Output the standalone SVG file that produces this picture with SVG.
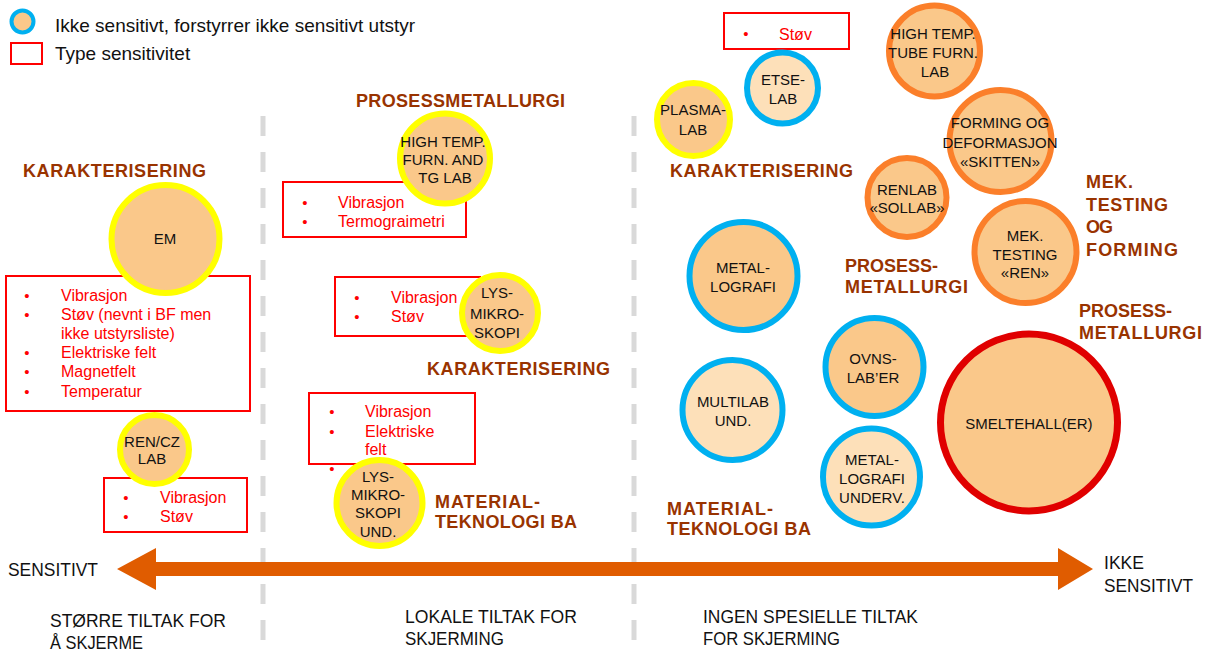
<svg xmlns="http://www.w3.org/2000/svg" width="1208" height="654" viewBox="0 0 1208 654">
  <style>
    text { font-family: "Liberation Sans", Arial, sans-serif; }
    .lbl { font-size: 15px; fill: #111; text-anchor: middle; }
    .leg { font-size: 19px; fill: #111; }
    .red { font-size: 16px; fill: #ff0000; }
    .blt { font-size: 15px; fill: #ff0000; text-anchor: middle; }
    .ttl { font-size: 18px; font-weight: bold; fill: #993300; }
    .scale { font-size: 18px; fill: #111; }
    .box { fill: none; stroke: #ff0000; stroke-width: 2; }
    .cy { stroke: #ffff00; stroke-width: 6; }
    .cb { stroke: #00b0f0; stroke-width: 6; }
    .co { stroke: #fb7f2a; stroke-width: 6; }
    .cr { stroke: #e00000; stroke-width: 7; }
    .dark { fill: #fac88a; }
    .light { fill: #fde0b9; }
    .sep { stroke: #d9d9d9; stroke-width: 5; stroke-dasharray: 20 16; }
  </style>

  <rect width="1208" height="654" fill="#ffffff"/>

  <!-- legend -->
  <g id="legend">
    <circle cx="22.5" cy="21.5" r="11" class="dark" stroke="#00b0f0" stroke-width="4"/>
    <text x="55" y="32" class="leg">Ikke sensitivt, forstyrrer ikke sensitivt utstyr</text>
    <rect x="11" y="43" width="31" height="21" class="box"/>
    <text x="55" y="60" class="leg">Type sensitivitet</text>
  </g>

  <!-- zone separators -->
  <g id="separators">
    <line x1="263" y1="116" x2="263" y2="654" class="sep"/>
    <line x1="634" y1="116" x2="634" y2="654" class="sep"/>
  </g>

  <!-- section titles -->
  <g id="titles">
    <text x="23" y="177" class="ttl" textLength="183">KARAKTERISERING</text>
    <text x="356" y="107" class="ttl" textLength="209">PROSESSMETALLURGI</text>
    <text x="427" y="375" class="ttl" textLength="183">KARAKTERISERING</text>
    <text x="435" y="508" class="ttl" textLength="105">MATERIAL-</text>
    <text x="435" y="528" class="ttl" textLength="142">TEKNOLOGI BA</text>
    <text x="670" y="177" class="ttl" textLength="183">KARAKTERISERING</text>
    <text x="845" y="272" class="ttl" textLength="93">PROSESS-</text>
    <text x="845" y="293" class="ttl" textLength="123">METALLURGI</text>
    <text x="1086" y="188" class="ttl" textLength="47">MEK.</text>
    <text x="1086" y="211" class="ttl" textLength="82">TESTING</text>
    <text x="1086" y="233" class="ttl" textLength="27">OG</text>
    <text x="1086" y="256" class="ttl" textLength="92">FORMING</text>
    <text x="1079" y="317" class="ttl" textLength="93">PROSESS-</text>
    <text x="1079" y="339" class="ttl" textLength="123">METALLURGI</text>
    <text x="667" y="515" class="ttl" textLength="106">MATERIAL-</text>
    <text x="667" y="535" class="ttl" textLength="144">TEKNOLOGI BA</text>
  </g>

  <!-- sensitivity boxes -->
  <g id="box-em">
    <rect x="6" y="276" width="244" height="135" class="box"/>
    <text x="27" y="301" class="blt">•</text><text x="61" y="301" class="red">Vibrasjon</text>
    <text x="27" y="320" class="blt">•</text><text x="61" y="320" class="red">Støv (nevnt i BF men</text>
    <text x="61" y="339" class="red">ikke utstyrsliste)</text>
    <text x="27" y="358" class="blt">•</text><text x="61" y="358" class="red">Elektriske felt</text>
    <text x="27" y="377" class="blt">•</text><text x="61" y="377" class="red">Magnetfelt</text>
    <text x="27" y="397" class="blt">•</text><text x="61" y="397" class="red">Temperatur</text>
  </g>
  <g id="box-rencz">
    <rect x="104" y="478" width="143" height="54" class="box"/>
    <text x="126" y="503" class="blt">•</text><text x="160" y="503" class="red">Vibrasjon</text>
    <text x="126" y="522" class="blt">•</text><text x="160" y="522" class="red">Støv</text>
  </g>
  <g id="box-hightemp">
    <rect x="283" y="182" width="183" height="55" class="box"/>
    <text x="305" y="208" class="blt">•</text><text x="338" y="208" class="red">Vibrasjon</text>
    <text x="305" y="227" class="blt">•</text><text x="338" y="227" class="red">Termograimetri</text>
  </g>
  <g id="box-lys">
    <rect x="335" y="277" width="145" height="59" class="box"/>
    <text x="357" y="303" class="blt">•</text><text x="391" y="303" class="red">Vibrasjon</text>
    <text x="357" y="322" class="blt">•</text><text x="391" y="322" class="red">Støv</text>
  </g>
  <g id="box-lys-und">
    <rect x="309" y="393" width="166" height="71" class="box"/>
    <text x="332" y="417" class="blt">•</text><text x="365" y="417" class="red">Vibrasjon</text>
    <text x="332" y="437" class="blt">•</text><text x="365" y="437" class="red">Elektriske</text>
    <text x="365" y="455" class="red">felt</text>
    <text x="332" y="474" class="blt">•</text>
  </g>
  <g id="box-etse">
    <rect x="724" y="13" width="125" height="36" class="box"/>
    <text x="746" y="39" class="blt">•</text><text x="779" y="40" class="red">Støv</text>
  </g>

  <!-- labs: sensitive (yellow) -->
  <g id="em">
    <circle cx="165.5" cy="239" r="54" class="cy dark"/>
    <text x="165" y="244" class="lbl">EM</text>
  </g>
  <g id="ren-cz-lab">
    <circle cx="154.5" cy="449.5" r="34.5" class="cy dark"/>
    <text x="152" y="447" class="lbl">REN/CZ</text>
    <text x="152" y="464" class="lbl">LAB</text>
  </g>
  <g id="high-temp-tg">
    <circle cx="445" cy="158.5" r="45" class="cy dark"/>
    <text x="443" y="147" class="lbl">HIGH TEMP.</text>
    <text x="443" y="165" class="lbl">FURN. AND</text>
    <text x="445" y="183" class="lbl">TG LAB</text>
  </g>
  <g id="lys-mikroskopi">
    <circle cx="500" cy="313" r="38" class="cy dark"/>
    <text x="497" y="298" class="lbl">LYS-</text>
    <text x="497" y="319" class="lbl">MIKRO-</text>
    <text x="497" y="338" class="lbl">SKOPI</text>
  </g>
  <g id="lys-mikroskopi-und">
    <circle cx="379.5" cy="503" r="43" class="cy dark"/>
    <text x="378" y="482" class="lbl">LYS-</text>
    <text x="378" y="500" class="lbl">MIKRO-</text>
    <text x="378" y="518" class="lbl">SKOPI</text>
    <text x="378" y="537" class="lbl">UND.</text>
  </g>
  <g id="plasma-lab">
    <circle cx="693.5" cy="119.5" r="36.5" class="cy dark"/>
    <text x="693" y="115" class="lbl">PLASMA-</text>
    <text x="693" y="135" class="lbl">LAB</text>
  </g>

  <!-- labs: not sensitive (blue) -->
  <g id="etse-lab">
    <circle cx="782.5" cy="88" r="35.5" class="cb light"/>
    <text x="783" y="85" class="lbl">ETSE-</text>
    <text x="783" y="104" class="lbl">LAB</text>
  </g>
  <g id="metallografi">
    <circle cx="743.5" cy="276" r="54" class="cb dark"/>
    <text x="743" y="273" class="lbl">METAL-</text>
    <text x="743" y="292" class="lbl">LOGRAFI</text>
  </g>
  <g id="multilab-und">
    <circle cx="732.5" cy="410" r="50" class="cb light"/>
    <text x="733" y="407" class="lbl">MULTILAB</text>
    <text x="733" y="426" class="lbl">UND.</text>
  </g>
  <g id="ovnslaber">
    <circle cx="874.5" cy="367" r="49" class="cb dark"/>
    <text x="873" y="364" class="lbl">OVNS-</text>
    <text x="873" y="383" class="lbl">LAB’ER</text>
  </g>
  <g id="metallografi-underv">
    <circle cx="871.5" cy="477" r="48.5" class="cb light"/>
    <text x="872" y="465" class="lbl">METAL-</text>
    <text x="872" y="484" class="lbl">LOGRAFI</text>
    <text x="872" y="503" class="lbl">UNDERV.</text>
  </g>

  <!-- labs: orange -->
  <g id="high-temp-tube">
    <circle cx="934.5" cy="51" r="45.5" class="co dark"/>
    <text x="933" y="39" class="lbl">HIGH TEMP.</text>
    <text x="933" y="58" class="lbl">TUBE FURN.</text>
    <text x="935" y="77" class="lbl">LAB</text>
  </g>
  <g id="forming-deformasjon">
    <circle cx="1000.5" cy="141" r="51" class="co dark"/>
    <text x="1000" y="128" class="lbl">FORMING OG</text>
    <text x="1000" y="148" class="lbl">DEFORMASJON</text>
    <text x="1000" y="167" class="lbl">«SKITTEN»</text>
  </g>
  <g id="renlab">
    <circle cx="907" cy="197.5" r="39.5" class="co dark"/>
    <text x="907" y="195" class="lbl">RENLAB</text>
    <text x="907" y="213" class="lbl">«SOLLAB»</text>
  </g>
  <g id="mek-testing">
    <circle cx="1025.5" cy="252" r="51" class="co dark"/>
    <text x="1025" y="241" class="lbl">MEK.</text>
    <text x="1025" y="260" class="lbl">TESTING</text>
    <text x="1025" y="278" class="lbl">«REN»</text>
  </g>

  <!-- melting hall (red) -->
  <g id="smeltehall">
    <circle cx="1029" cy="422.5" r="88.5" class="cr dark"/>
    <text x="1029" y="429" class="lbl">SMELTEHALL(ER)</text>
  </g>

  <!-- sensitivity scale -->
  <g id="connectors">
    <polygon points="117,569 156,548 156,562 1058,562 1058,548 1093,569 1058,590 1058,576 156,576 156,590" fill="#e05c00"/>
  </g>
  <g id="scale-labels">
    <text x="8" y="576" class="scale" textLength="90" lengthAdjust="spacingAndGlyphs">SENSITIVT</text>
    <text x="1104" y="569" class="scale" textLength="40" lengthAdjust="spacingAndGlyphs">IKKE</text>
    <text x="1104" y="592" class="scale" textLength="89" lengthAdjust="spacingAndGlyphs">SENSITIVT</text>
    <text x="50" y="627" class="scale" textLength="176" lengthAdjust="spacingAndGlyphs">STØRRE TILTAK FOR</text>
    <text x="50" y="649" class="scale" textLength="93" lengthAdjust="spacingAndGlyphs">Å SKJERME</text>
    <text x="405" y="623" class="scale" textLength="172" lengthAdjust="spacingAndGlyphs">LOKALE TILTAK FOR</text>
    <text x="405" y="645" class="scale" textLength="99" lengthAdjust="spacingAndGlyphs">SKJERMING</text>
    <text x="703" y="623" class="scale" textLength="215" lengthAdjust="spacingAndGlyphs">INGEN SPESIELLE TILTAK</text>
    <text x="703" y="645" class="scale" textLength="137" lengthAdjust="spacingAndGlyphs">FOR SKJERMING</text>
  </g>
</svg>
